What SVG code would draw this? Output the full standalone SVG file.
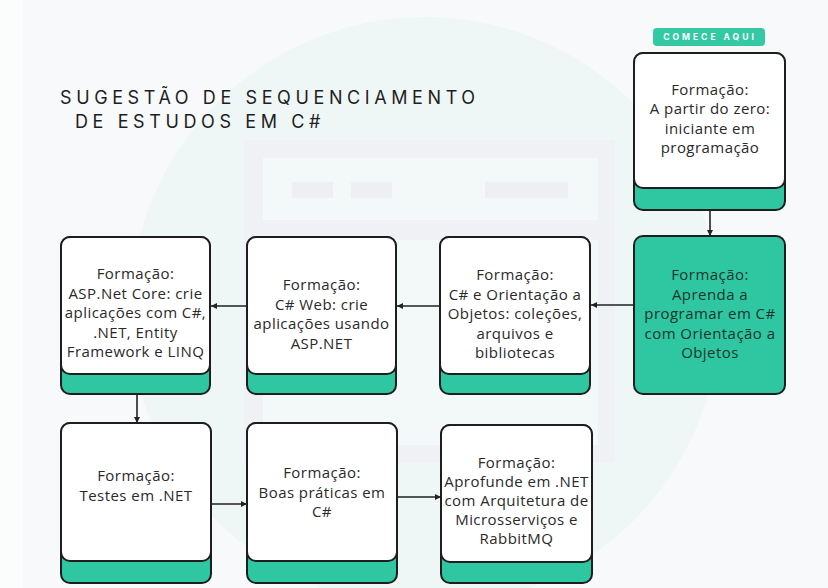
<svg xmlns="http://www.w3.org/2000/svg" width="828" height="588" viewBox="0 0 828 588">
  <defs>
    <marker id="ah" markerUnits="userSpaceOnUse" markerWidth="8" markerHeight="8" refX="6" refY="3" orient="auto">
      <path d="M0,0 L6,3 L0,6 Z" fill="#222"/>
    </marker>
    <style>
      .bg-frame { fill: #f0f1f4; }
      .bg-inner { fill: #f3f8f8; }
      .bg-bar { fill: #edeff2; }
      .base { fill: #2fc7a1; stroke: #1e1e1e; stroke-width: 2; }
      .card { fill: #ffffff; stroke: #1e1e1e; stroke-width: 2; }
      .card-teal { fill: #2fc7a1; stroke: #1e1e1e; stroke-width: 2; }
      .lbl { font-family: "Open Sans", "Liberation Sans", sans-serif; font-size: 15px; letter-spacing: 0.45px; fill: #2a2a2a; text-anchor: middle; }
      .lbl-dark { fill: #1c352f; }
      .title { font-family: Inter, "Liberation Sans", sans-serif; font-size: 18px; fill: #1e1e1e; letter-spacing: 4.6px; }
      .badge { font-family: Inter, "Liberation Sans", sans-serif; font-size: 8.5px; font-weight: 700; fill: #ffffff; letter-spacing: 3px; text-anchor: middle; }
      .conn { stroke: #222; stroke-width: 1.6; fill: none; marker-end: url(#ah); }
    </style>
  </defs>

  <!-- background -->
  <rect x="0" y="0" width="828" height="588" fill="#f7f9fa"/>
  <rect x="0" y="0" width="23" height="588" fill="#fbfcfc"/>
  <circle cx="425" cy="312" r="295" fill="#eff7f6"/>
  <rect class="bg-frame" x="244" y="140" width="371" height="323"/>
  <rect class="bg-inner" x="263" y="158" width="335" height="62"/>
  <rect class="bg-inner" x="263" y="240" width="335" height="205"/>
  <rect class="bg-bar" x="292" y="182" width="41" height="16"/>
  <rect class="bg-bar" x="351" y="182" width="41" height="16"/>
  <rect class="bg-bar" x="485" y="182" width="83" height="16"/>

  <!-- title -->
  <g id="title">
    <text class="title" x="60" y="104">SUGESTÃO DE SEQUENCIAMENTO</text>
    <text class="title" x="75" y="128">DE ESTUDOS EM C#</text>
  </g>

  <!-- badge -->
  <g id="badge">
    <rect x="653" y="28" width="112" height="18" rx="4" fill="#33c9a3"/>
    <text class="badge" x="710" y="40">COMECE AQUI</text>
  </g>

  <!-- connectors -->
  <g id="connectors">
    <path class="conn" d="M710,210 L710,236"/>
    <path class="conn" d="M634,305 L591,305"/>
    <path class="conn" d="M440,306 L397,306"/>
    <path class="conn" d="M247,306 L211,306"/>
    <path class="conn" d="M137,395 L137,423"/>
    <path class="conn" d="M211,504 L247,504"/>
    <path class="conn" d="M397,497 L441,497"/>
  </g>

  <!-- nodes -->
  <g id="node-zero">
    <rect class="base" x="634" y="53" width="151" height="157" rx="9"/>
    <rect class="card" x="634" y="53" width="151" height="135" rx="9"/>
    <text class="lbl" x="710" y="95">Formação:<tspan x="710" dy="19.3">A partir do zero:</tspan><tspan x="710" dy="19.3">iniciante em</tspan><tspan x="710" dy="19.3">programação</tspan></text>
  </g>

  <g id="node-aprenda">
    <rect class="card-teal" x="634" y="236" width="151" height="158" rx="9"/>
    <text class="lbl lbl-dark" x="710" y="280">Formação:<tspan x="710" dy="19.5">Aprenda a</tspan><tspan x="710" dy="19.5">programar em C#</tspan><tspan x="710" dy="19.5">com Orientação a</tspan><tspan x="710" dy="19.5">Objetos</tspan></text>
  </g>

  <g id="node-oo">
    <rect class="base" x="440" y="237" width="150" height="157" rx="9"/>
    <rect class="card" x="440" y="237" width="150" height="137" rx="9"/>
    <text class="lbl" x="515" y="280">Formação:<tspan x="515" dy="19.5">C# e Orientação a</tspan><tspan x="515" dy="19.5">Objetos: coleções,</tspan><tspan x="515" dy="19.5">arquivos e</tspan><tspan x="515" dy="19.5">bibliotecas</tspan></text>
  </g>

  <g id="node-web">
    <rect class="base" x="247" y="237" width="149" height="157" rx="9"/>
    <rect class="card" x="247" y="237" width="149" height="137" rx="9"/>
    <text class="lbl" x="321.5" y="290">Formação:<tspan x="321.5" dy="19.5">C# Web: crie</tspan><tspan x="321.5" dy="19.5">aplicações usando</tspan><tspan x="321.5" dy="19.5">ASP.NET</tspan></text>
  </g>

  <g id="node-aspnet">
    <rect class="base" x="61" y="237" width="149" height="157" rx="9"/>
    <rect class="card" x="61" y="237" width="149" height="137" rx="9"/>
    <text class="lbl" x="135.5" y="279">Formação:<tspan x="135.5" dy="19.5">ASP.Net Core: crie</tspan><tspan x="135.5" dy="19.5">aplicações com C#,</tspan><tspan x="135.5" dy="19.5">.NET, Entity</tspan><tspan x="135.5" dy="19.5">Framework e LINQ</tspan></text>
  </g>

  <g id="node-testes">
    <rect class="base" x="61" y="423" width="150" height="160" rx="9"/>
    <rect class="card" x="61" y="423" width="150" height="138" rx="9"/>
    <text class="lbl" x="136" y="481">Formação:<tspan x="136" dy="19.5">Testes em .NET</tspan></text>
  </g>

  <g id="node-boas">
    <rect class="base" x="247" y="423" width="150" height="160" rx="9"/>
    <rect class="card" x="247" y="423" width="150" height="138" rx="9"/>
    <text class="lbl" x="322" y="478">Formação:<tspan x="322" dy="19.5">Boas práticas em</tspan><tspan x="322" dy="19.5">C#</tspan></text>
  </g>

  <g id="node-micro">
    <rect class="base" x="441" y="425" width="151" height="158" rx="9"/>
    <rect class="card" x="441" y="425" width="151" height="137" rx="9"/>
    <text class="lbl" x="516.5" y="468">Formação:<tspan x="516.5" dy="19">Aprofunde em .NET</tspan><tspan x="516.5" dy="19">com Arquitetura de</tspan><tspan x="516.5" dy="19">Microsserviços e</tspan><tspan x="516.5" dy="19">RabbitMQ</tspan></text>
  </g>
</svg>
